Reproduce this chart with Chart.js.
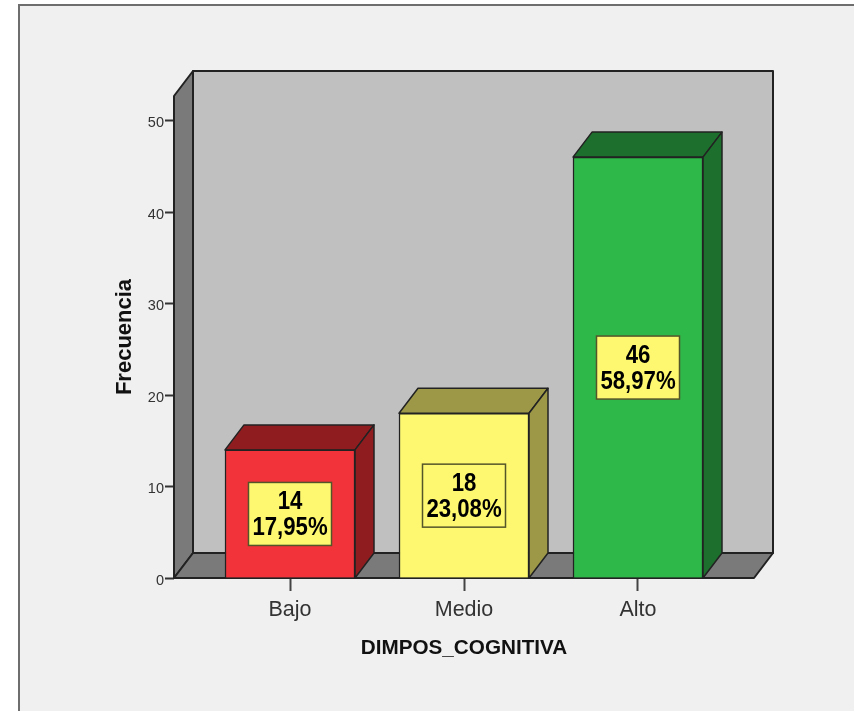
<!DOCTYPE html>
<html>
<head>
<meta charset="utf-8">
<style>
  html, body { margin: 0; padding: 0; background: #fff; overflow: hidden; }
  canvas { display: block; }
</style>
<script src="https://cdn.jsdelivr.net/npm/chart.js@4/dist/chart.umd.min.js"></script>
</head>
<body>
<canvas id="grafico" width="854" height="711"></canvas>
<script>
var categorias = ["Bajo", "Medio", "Alto"];
var frecuencias = [14, 18, 46];
var porcentajes = ["17,95%", "23,08%", "58,97%"];
var colorFrente = ["#F23339", "#FDF870", "#2EB84A"];
var colorSombra = ["#8F1D20", "#9C9848", "#1D6F2D"];

var FONDO = "#F0F0F0";
var PARED = "#C0C0C0";
var LATERAL = "#7A7A7A";
var LINEA = "#222222";
var DX = 19;
var DY = 25;
var ANCHO_BARRA = 130;

function poligono(ctx, puntos, relleno) {
  ctx.beginPath();
  ctx.moveTo(puntos[0][0], puntos[0][1]);
  for (var i = 1; i < puntos.length; i++) ctx.lineTo(puntos[i][0], puntos[i][1]);
  ctx.closePath();
  ctx.fillStyle = relleno;
  ctx.fill();
  ctx.stroke();
}

// texto estrecho y alto, como en el original
function textoEstrecho(ctx, texto, x, y) {
  ctx.save();
  ctx.translate(x, y);
  ctx.scale(0.87, 1);
  ctx.fillText(texto, 0, 0);
  ctx.restore();
}

// marco gris de la ventana
var marco = {
  id: "marco",
  beforeDraw: function (chart) {
    var ctx = chart.ctx;
    ctx.save();
    ctx.fillStyle = FONDO;
    ctx.fillRect(19, 5, chart.width - 19, chart.height - 5);
    ctx.strokeStyle = "#6E6E6E";
    ctx.lineWidth = 2;
    ctx.beginPath();
    ctx.moveTo(19, chart.height);
    ctx.lineTo(19, 5);
    ctx.lineTo(chart.width, 5);
    ctx.stroke();
    ctx.restore();
  }
};

// paredes, suelo y caras laterales de las barras
var caja3d = {
  id: "caja3d",
  beforeDatasetsDraw: function (chart) {
    var ctx = chart.ctx;
    var a = chart.chartArea;
    var x = chart.scales.x;
    var y = chart.scales.y;
    ctx.save();
    ctx.strokeStyle = LINEA;
    ctx.lineWidth = 2;
    ctx.lineJoin = "round";
    poligono(ctx, [[a.left + DX, a.top - DY], [a.right + DX, a.top - DY], [a.right + DX, a.bottom - DY], [a.left + DX, a.bottom - DY]], PARED);
    poligono(ctx, [[a.left, a.top], [a.left + DX, a.top - DY], [a.left + DX, a.bottom - DY], [a.left, a.bottom]], LATERAL);
    poligono(ctx, [[a.left, a.bottom], [a.left + DX, a.bottom - DY], [a.right + DX, a.bottom - DY], [a.right, a.bottom]], LATERAL);
    ctx.lineWidth = 1.5;
    for (var i = 0; i < frecuencias.length; i++) {
      var cx = x.getPixelForValue(i);
      var izq = cx - ANCHO_BARRA / 2;
      var der = cx + ANCHO_BARRA / 2;
      var tope = y.getPixelForValue(frecuencias[i]);
      poligono(ctx, [[izq, tope], [izq + DX, tope - DY], [der + DX, tope - DY], [der, tope]], colorSombra[i]);
      poligono(ctx, [[der, tope], [der + DX, tope - DY], [der + DX, a.bottom - DY], [der, a.bottom]], colorSombra[i]);
    }
    ctx.restore();
  }
};

// etiquetas amarillas con frecuencia y porcentaje
var etiquetas = {
  id: "etiquetas",
  afterDatasetsDraw: function (chart) {
    var ctx = chart.ctx;
    var x = chart.scales.x;
    var y = chart.scales.y;
    ctx.save();
    ctx.textAlign = "center";
    ctx.textBaseline = "middle";
    ctx.font = "bold 25.5px 'Liberation Sans', Arial, sans-serif";
    for (var i = 0; i < frecuencias.length; i++) {
      var cx = x.getPixelForValue(i);
      var cy = (y.getPixelForValue(frecuencias[i]) + y.getPixelForValue(0)) / 2;
      ctx.fillStyle = "#FDF870";
      ctx.strokeStyle = "#55552A";
      ctx.lineWidth = 1.5;
      ctx.fillRect(cx - 41.5, cy - 31.5, 83, 63);
      ctx.strokeRect(cx - 41.5, cy - 31.5, 83, 63);
      ctx.fillStyle = "#000";
      textoEstrecho(ctx, String(frecuencias[i]), cx, cy - 12);
      textoEstrecho(ctx, porcentajes[i], cx, cy + 14);
    }
    ctx.restore();
  }
};

new Chart(document.getElementById("grafico"), {
  type: "bar",
  data: {
    datasets: [{
      data: frecuencias.map(function (v, i) { return { x: i, y: v }; }),
      backgroundColor: colorFrente,
      borderColor: LINEA,
      borderWidth: 1.5,
      barThickness: ANCHO_BARRA
    }]
  },
  options: {
    responsive: false,
    animation: false,
    devicePixelRatio: 1,
    layout: { padding: { left: 112, top: 96, right: 100, bottom: 50 } },
    plugins: { legend: { display: false }, tooltip: { enabled: false } },
    scales: {
      x: {
        type: "linear",
        offset: false,
        min: -0.6667,
        max: 2.6667,
        afterBuildTicks: function (scale) {
          scale.ticks = categorias.map(function (c, i) { return { value: i }; });
        },
        afterFit: function (scale) { scale.height = 83; },
        grid: { offset: false, drawOnChartArea: false, tickLength: 13, tickColor: "#444", tickWidth: 2 },
        border: { display: false },
        ticks: {
          autoSkip: false,
          maxRotation: 0,
          padding: 6,
          color: "#333",
          font: { family: "'Liberation Sans', Arial, sans-serif", size: 21.5 },
          callback: function (v) { return categorias[v]; }
        },
        title: {
          display: true,
          text: "DIMPOS_COGNITIVA",
          color: "#111",
          padding: { top: 8, bottom: 0 },
          font: { family: "'Liberation Sans', Arial, sans-serif", size: 20.7, weight: "bold" }
        }
      },
      y: {
        min: 0,
        max: 52.68,
        afterFit: function (scale) { scale.width = 62; },
        grid: { drawOnChartArea: false, tickLength: 9, tickColor: "#333", tickWidth: 2 },
        border: { display: false },
        ticks: {
          stepSize: 10,
          includeBounds: false,
          padding: 1,
          color: "#333",
          font: { family: "'Liberation Sans', Arial, sans-serif", size: 14.5, lineHeight: 0.4 },
          // linea vacia para bajar el numero respecto a la marca, como en el original
          callback: function (v) { return ["", String(v)]; }
        },
        title: {
          display: true,
          text: "Frecuencia",
          color: "#111",
          padding: 0,
          font: { family: "'Liberation Sans', Arial, sans-serif", size: 22, weight: "bold" }
        }
      }
    }
  },
  plugins: [marco, caja3d, etiquetas]
});
</script>
</body>
</html>
